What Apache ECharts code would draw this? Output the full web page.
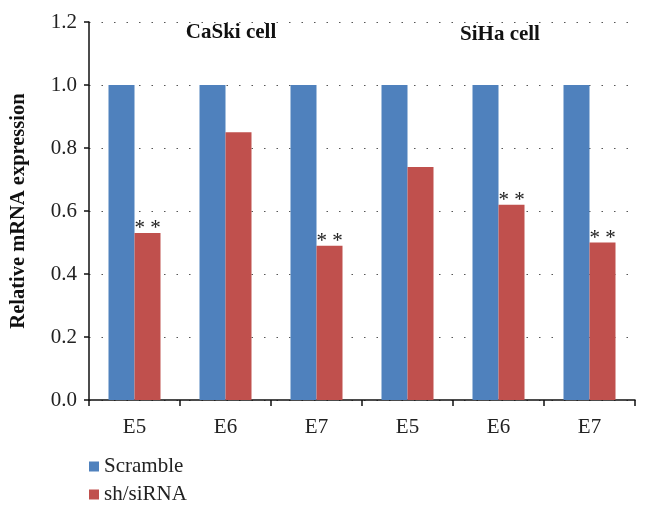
<!DOCTYPE html>
<html>
<head>
<meta charset="utf-8">
<script src="https://cdn.jsdelivr.net/npm/echarts@6/dist/echarts.min.js"></script>
<style>html,body{margin:0;padding:0;background:#fff}#c{width:650px;height:511px}</style>
</head>
<body>
<div id="c"></div>
<script>
var categories = ['E5', 'E6', 'E7', 'E5', 'E6', 'E7'];
var scramble = [1.0, 1.0, 1.0, 1.0, 1.0, 1.0];
var shsiRNA = [0.53, 0.85, 0.49, 0.74, 0.62, 0.50];
var significance = ['* *', '', '* *', '', '* *', '* *'];
var yTicks = [0, 0.2, 0.4, 0.6, 0.8, 1.0, 1.2];
var groupTitles = ['CaSki cell', 'SiHa cell'];

var serif = '"Liberation Serif", "DejaVu Serif", serif';
var chart = echarts.init(document.getElementById('c'));
chart.setOption({
  animation: false,
  backgroundColor: '#fff',
  title: [
    { text: groupTitles[0], left: 226, top: 17, textAlign: 'center',
      textStyle: { fontFamily: serif, fontWeight: 'bold', fontSize: 21, color: '#111' } },
    { text: groupTitles[1], left: 495, top: 19, textAlign: 'center',
      textStyle: { fontFamily: serif, fontWeight: 'bold', fontSize: 21, color: '#111' } }
  ],
  legend: {
    orient: 'vertical', left: 84, top: 451, itemWidth: 10, itemHeight: 10, itemGap: 7,
    icon: 'rect',
    textStyle: { fontFamily: serif, fontSize: 21, color: '#222' },
    data: ['Scramble', 'sh/siRNA']
  },
  grid: { left: 85, right: 15, top: 22, bottom: 111, containLabel: false },
  xAxis: {
    type: 'category', data: categories,
    axisLine: { lineStyle: { color: '#111', width: 1.5 } },
    axisTick: { show: true, length: 6, lineStyle: { color: '#111', width: 1.5 } },
    axisLabel: { fontFamily: serif, fontSize: 21, color: '#222', margin: 17 }
  },
  yAxis: {
    type: 'value', min: yTicks[0], max: yTicks[yTicks.length - 1], interval: 0.2,
    name: 'Relative mRNA expression', nameLocation: 'middle', nameGap: 60,
    nameTextStyle: { fontFamily: serif, fontWeight: 'bold', fontSize: 20.5, color: '#111' },
    axisLine: { show: true, lineStyle: { color: '#111', width: 1.5 } },
    axisTick: { show: true, length: 5, lineStyle: { color: '#111', width: 1.5 } },
    axisLabel: { fontFamily: serif, fontSize: 21, color: '#222', margin: 12,
      formatter: function (v) { return v.toFixed(1); } },
    splitLine: { show: true, lineStyle: { color: '#555', type: [1.5, 11], width: 1.2 } }
  },
  series: [
    { name: 'Scramble', type: 'bar', data: scramble, barWidth: 26, barGap: '0%',
      itemStyle: { color: '#4F81BD' } },
    { name: 'sh/siRNA', type: 'bar', data: shsiRNA, barWidth: 26,
      itemStyle: { color: '#C0504D' },
      label: { show: true, position: 'top', distance: -6,
        fontFamily: serif, fontSize: 21, color: '#222',
        formatter: function (p) { return significance[p.dataIndex]; } } }
  ]
});
</script>
</body>
</html>
